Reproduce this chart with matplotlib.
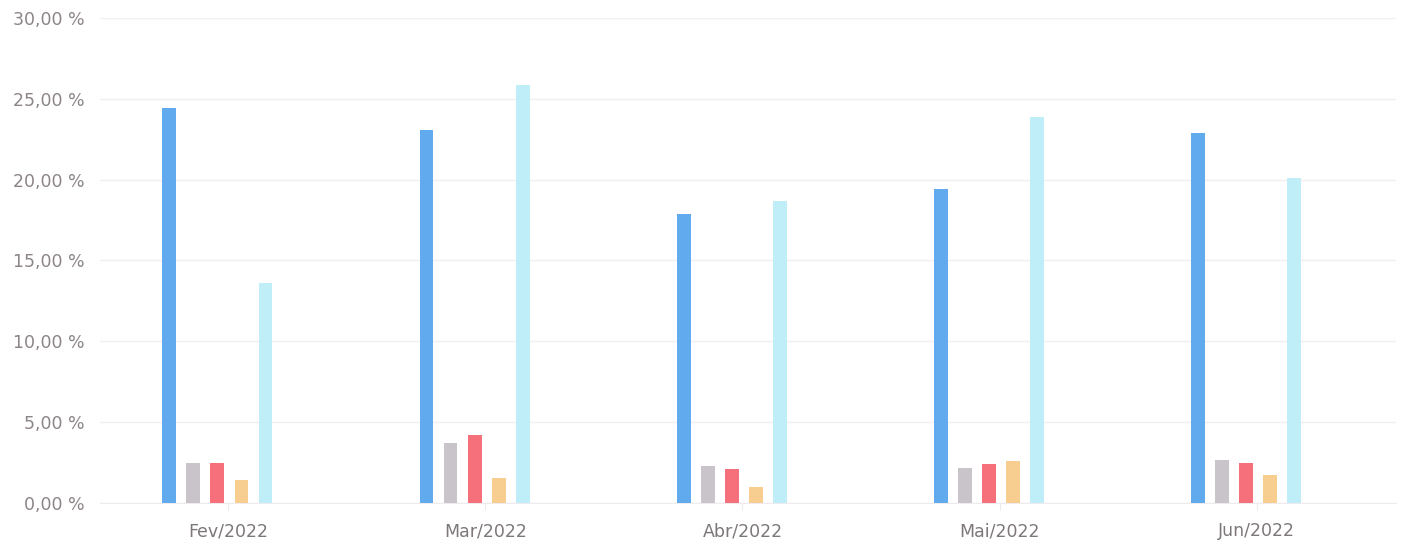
import numpy as np
import matplotlib.pyplot as plt
from matplotlib.ticker import FuncFormatter

months = ['Fev/2022', 'Mar/2022', 'Abr/2022', 'Mai/2022', 'Jun/2022']
serie_azul = [24.4, 23.1, 17.9, 19.4, 22.9]
serie_cinza = [2.5, 3.7, 2.3, 2.15, 2.65]
serie_vermelha = [2.5, 4.2, 2.1, 2.4, 2.5]
serie_laranja = [1.4, 1.55, 1.0, 2.6, 1.75]
serie_ciano = [13.6, 25.85, 18.7, 23.9, 20.1]

series = [serie_azul, serie_cinza, serie_vermelha, serie_laranja, serie_ciano]
colors = ['#62aaee', '#c9c4c9', '#f5707a', '#f8cd90', '#c0eef8']

fig = plt.figure(figsize=(14.04, 5.44), dpi=100)
ax = fig.add_axes([0.071, 0.0754, 0.923, 0.8916])

x = np.arange(len(months))
step = 0.0934
width = 0.054
for i, (vals, c) in enumerate(zip(series, colors)):
    ax.bar(x + (i - 2.45) * step, vals, width=width, color=c, zorder=3)

ax.set_xlim(-0.5, len(months) - 0.46)
ax.set_ylim(0, 30)
ax.set_yticks(np.arange(0, 31, 5))
ax.yaxis.set_major_formatter(FuncFormatter(lambda v, p: f'{v:.2f} %'.replace('.', ',')))
ax.set_xticks(x)
ax.set_xticklabels(months)

ax.grid(axis='y', color='#f1eff1', linewidth=1, zorder=0)
for s in ['top', 'right', 'left']:
    ax.spines[s].set_visible(False)
ax.spines['bottom'].set_color('#eeeaee')
ax.tick_params(axis='y', length=0, pad=11, labelsize=12.5, labelcolor='#8c8489')
ax.tick_params(axis='x', length=5, color='#eeeaee', pad=9, labelsize=12.5, labelcolor='#7d777b')

fig.savefig('out.png', dpi=100, facecolor='white')
